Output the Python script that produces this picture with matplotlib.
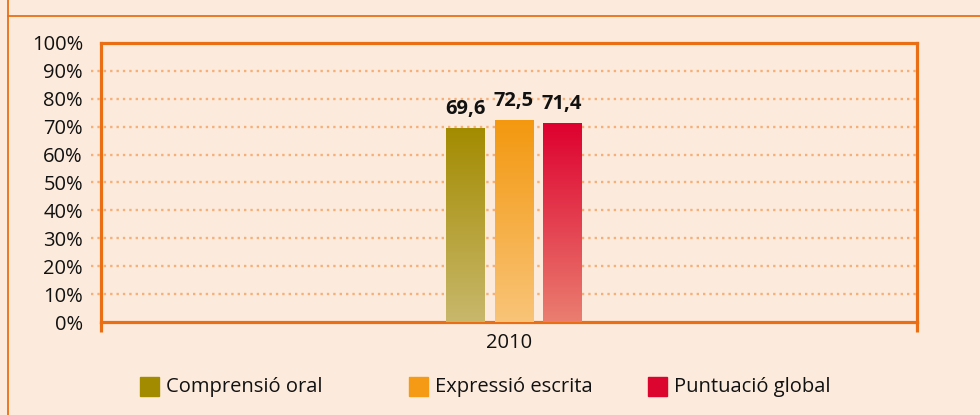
import numpy as np
import matplotlib
matplotlib.use("Agg")
import matplotlib.pyplot as plt
from matplotlib.patches import Rectangle
from matplotlib.lines import Line2D
import matplotlib.transforms as mtransforms

# data
categories = ["2010"]
series_names = ["Comprensió oral", "Expressió escrita", "Puntuació global"]
series_values = [69.6, 72.5, 71.4]
value_labels = ["69,6", "72,5", "71,4"]
yticks = list(range(0, 101, 10))
ytick_labels = ["%d%%" % t for t in yticks]

# styles
bg = "#FCEBDC"
orange = "#EA6F14"
grid_col = "#F6AF78"
top_cols = ["#A38B00", "#F3980F", "#DE002F"]
bot_cols = ["#C8B86C", "#F9C478", "#EA7E70"]
legend_cols = ["#A38B00", "#F49A14", "#DC0530"]

plt.rcParams["font.family"] = ["Open Sans", "DejaVu Sans"]
fs = 14.5

fig = plt.figure(figsize=(9.8, 4.15), dpi=100, facecolor=bg)
ax = fig.add_axes([101 / 980, 93 / 415, 816 / 980, 279 / 415])
ax.set_facecolor(bg)
ax.set_xlim(-0.5, 0.5)
ax.set_ylim(0, 100)

px = 1.0 / 816  # one pixel in x data units
bw = 39 * px
offsets = [-49 * px, 0, 48 * px]
shift = 5 * px

for i, v in enumerate(series_values):
    xc = shift + offsets[i]
    bar = ax.bar(xc, v, width=bw, color="none", edgecolor="none", zorder=3)[0]
    c0 = np.array(matplotlib.colors.to_rgb(top_cols[i]))
    c1 = np.array(matplotlib.colors.to_rgb(bot_cols[i]))
    t = np.linspace(0, 1, 256)[:, None]
    grad = (c0[None, :] * (1 - t) + c1[None, :] * t)[:, None, :]
    im = ax.imshow(grad, extent=(xc - bw / 2, xc + bw / 2, 0, v), aspect="auto",
                   origin="upper", zorder=3)
    im.set_clip_path(bar)
    ax.annotate(value_labels[i], (xc, v), xytext=(0, 6), textcoords="offset points",
                ha="center", va="bottom", fontsize=fs, fontweight="bold",
                color="#111111", zorder=4)

ax.set_xlim(-0.5, 0.5)
ax.set_ylim(0, 100)

# dotted grid lines reaching a bit left of the axis
trans = mtransforms.blended_transform_factory(ax.transAxes, ax.transData)
for t in yticks[1:-1]:
    ax.plot([-10 / 816, 1], [t, t], transform=trans, color=grid_col, lw=1.7,
            linestyle=(0, (1, 1.7)), clip_on=False, zorder=1)

for s in ax.spines.values():
    s.set_color(orange)
    s.set_linewidth(2.3)

ax.set_yticks(yticks)
ax.set_yticklabels(ytick_labels)
ax.tick_params(axis="y", length=0, pad=13, labelsize=fs, labelcolor="#111111")
ax.set_yticks([0, 100], minor=True)
ax.tick_params(axis="y", which="minor", length=7, width=2.3, color=orange)

ax.set_xticks([0])
ax.set_xticklabels(categories)
ax.tick_params(axis="x", length=0, pad=8, labelsize=fs, labelcolor="#111111")
ax.set_xticks([-0.5, 0.5], minor=True)
ax.tick_params(axis="x", which="minor", length=7, width=2.3, color=orange)

# outer frame lines
fig.add_artist(Line2D([8 / 980, 8 / 980], [0, 1], color=orange, lw=1.3))
fig.add_artist(Line2D([8 / 980, 1], [1 - 16 / 415, 1 - 16 / 415], color=orange, lw=1.3))

# legend
sq_x = [140, 409, 648]
for i, name in enumerate(series_names):
    fig.patches.append(Rectangle((sq_x[i] / 980, (415 - 396) / 415), 19 / 980, 19 / 415,
                                 transform=fig.transFigure, color=legend_cols[i]))
    fig.text((sq_x[i] + 26) / 980, (415 - 387) / 415, name, fontsize=fs,
             va="center", ha="left", color="#111111")

fig.savefig("out.png", dpi=100, facecolor=bg)
